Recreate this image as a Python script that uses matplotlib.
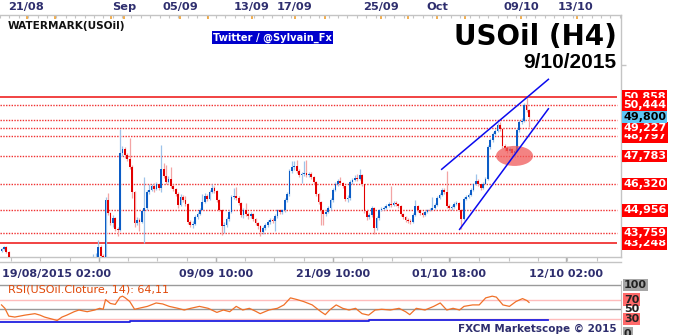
import numpy as np
import matplotlib
matplotlib.use("Agg")
import matplotlib.pyplot as plt
from matplotlib.patches import Ellipse
from matplotlib.transforms import blended_transform_factory
from matplotlib.lines import Line2D

# ---------------- data (H4 candles) ----------------
first_open = 42.85
closes = [42.95, 43.05, 42.80, 42.45, 42.20, 41.90, 41.75, 41.55, 41.20, 41.00,
          40.80, 40.60, 40.50, 40.20, 40.00, 39.80, 39.60, 39.30, 39.00, 38.80,
          38.60, 38.50, 38.80, 39.00, 39.30, 39.20, 39.00, 39.20, 39.50, 39.40,
          39.20, 39.00, 39.30, 39.80, 40.30, 40.80, 41.30, 41.80, 42.20, 42.40,
          43.05, 42.60, 42.20, 45.50, 44.80, 44.30, 44.55, 44.00, 43.95, 47.95,
          48.15, 47.85, 47.60, 47.20, 45.90, 44.30, 44.45, 44.35, 44.90, 45.10,
          45.90, 46.00, 46.20, 46.05, 46.30, 46.10, 47.10, 46.75, 46.45, 46.60,
          46.20, 46.05, 45.80, 45.25, 45.65, 45.50, 45.30, 44.35, 44.20, 44.25,
          44.60, 44.75, 45.00, 45.40, 45.70, 45.55, 45.90, 46.10, 45.95, 45.50,
          45.00, 44.15, 44.20, 44.50, 44.85, 45.65, 45.70, 45.60, 45.35, 44.70,
          45.00, 44.75, 44.65, 44.75, 44.50, 44.30, 44.15, 43.85, 44.05, 44.20,
          44.35, 44.45, 44.40, 44.65, 44.95, 44.85, 44.95, 45.50, 45.80, 47.00,
          47.20, 47.25, 47.00, 46.80, 46.85, 46.90, 46.80, 46.85, 46.70, 46.45,
          45.80, 45.40, 44.95, 44.75, 44.85, 45.10, 45.50, 46.00, 46.30, 46.50,
          46.40, 46.20, 45.55, 45.60, 46.45, 46.55, 46.65, 46.60, 46.80, 46.30,
          44.90, 44.60, 44.70, 45.10, 44.05, 44.55, 44.95, 45.05, 45.10, 45.20,
          45.30, 45.25, 45.35, 45.30, 45.20, 44.75, 44.60, 44.45, 44.40, 44.35,
          44.70, 45.20, 44.95, 44.80, 44.70, 44.85, 44.95, 45.00, 45.10, 45.25,
          45.60, 45.75, 46.00, 45.90, 45.20, 45.10, 45.15, 45.30, 45.35, 45.00,
          44.50, 45.55, 45.65, 45.75, 46.00, 46.30, 46.50, 46.30, 46.10, 46.35,
          46.60, 48.25, 48.60, 48.90, 49.10, 49.40, 49.20, 48.30, 48.20, 48.05,
          48.15, 47.95, 48.05, 49.15, 49.55, 49.60, 50.45, 50.15, 49.80]
highs = [43.00, 43.12, 43.10, 42.85, 42.40, 42.25, 42.00, 41.85, 41.60, 41.30,
         41.10, 40.90, 40.75, 40.55, 40.30, 40.10, 39.90, 39.70, 39.40, 39.10,
         38.90, 38.70, 38.95, 39.15, 39.45, 39.40, 39.25, 39.35, 39.65, 39.60,
         39.45, 39.25, 39.45, 39.95, 40.45, 40.95, 41.45, 42.00, 42.70, 42.75,
         43.40, 43.15, 42.70, 45.65, 45.85, 44.85, 44.70, 44.60, 44.10, 49.20,
         48.30, 48.25, 47.95, 48.70, 47.30, 45.95, 44.60, 44.55, 45.00, 46.70,
         46.00, 46.30, 46.35, 46.40, 46.45, 46.35, 48.35, 47.40, 47.30, 46.75,
         47.20, 46.30, 46.10, 45.90, 45.80, 45.75, 45.70, 45.35, 44.45, 44.40,
         44.70, 44.85, 45.10, 45.80, 45.85, 45.80, 46.00, 46.30, 46.20, 46.00,
         45.55, 45.05, 44.35, 44.60, 44.95, 45.75, 46.10, 46.15, 45.70, 45.40,
         45.10, 45.35, 44.85, 44.85, 44.80, 44.55, 44.35, 44.20, 44.15, 44.30,
         44.45, 44.55, 44.55, 44.75, 45.05, 45.05, 45.05, 45.60, 45.90, 47.10,
         47.50, 47.50, 47.55, 47.10, 46.95, 47.50, 47.55, 46.95, 46.95, 46.75,
         46.50, 45.85, 45.45, 45.00, 44.95, 45.20, 45.60, 46.10, 46.45, 46.60,
         46.70, 46.45, 46.25, 45.75, 46.55, 46.65, 46.80, 46.85, 47.10, 46.85,
         46.35, 44.95, 44.80, 45.20, 45.15, 44.65, 45.05, 45.15, 45.20, 45.30,
         45.40, 46.20, 45.45, 45.45, 45.35, 45.25, 44.80, 44.65, 44.55, 44.50,
         44.80, 45.50, 45.25, 45.00, 44.85, 44.95, 45.05, 45.10, 45.65, 45.35,
         45.70, 45.85, 46.10, 46.10, 47.00, 45.30, 45.25, 45.40, 45.45, 45.40,
         45.05, 45.65, 45.75, 45.85, 46.10, 46.40, 46.85, 46.60, 46.35, 46.45,
         46.70, 48.35, 48.70, 49.00, 49.20, 49.50, 49.55, 49.25, 48.40, 48.30,
         48.25, 48.20, 48.15, 49.25, 49.65, 49.75, 50.55, 50.85, 50.20]
lows = [42.80, 42.88, 42.72, 42.30, 42.05, 41.80, 41.60, 41.40, 41.05, 40.85,
        40.65, 40.45, 40.30, 40.05, 39.85, 39.65, 39.45, 39.15, 38.85, 38.60,
        38.40, 38.25, 38.40, 38.70, 38.95, 39.05, 38.85, 38.95, 39.15, 39.25,
        39.05, 38.85, 38.95, 39.25, 39.75, 40.25, 40.75, 41.25, 41.70, 42.10,
        42.30, 42.50, 41.90, 42.10, 44.70, 44.20, 44.10, 43.90, 43.60, 43.90,
        47.80, 47.70, 47.50, 47.10, 45.60, 44.10, 44.20, 43.90, 44.30, 43.25,
        45.00, 45.80, 45.95, 45.90, 46.00, 46.00, 45.90, 46.65, 46.35, 46.40,
        46.10, 45.95, 45.70, 45.10, 45.20, 45.40, 45.20, 44.25, 44.10, 44.05,
        44.20, 44.50, 44.70, 44.95, 45.35, 45.45, 45.50, 45.85, 45.85, 45.40,
        44.90, 43.70, 43.80, 44.10, 44.40, 44.80, 45.55, 45.50, 45.25, 44.60,
        44.55, 44.65, 44.50, 44.55, 44.40, 44.20, 44.00, 43.60, 43.75, 43.95,
        44.10, 44.25, 44.30, 43.90, 44.55, 44.75, 44.75, 44.85, 45.40, 45.70,
        46.90, 47.05, 46.90, 46.70, 46.40, 46.75, 46.70, 46.70, 46.60, 46.35,
        45.70, 45.30, 44.20, 44.20, 44.65, 44.80, 45.00, 45.40, 45.95, 46.20,
        46.30, 46.10, 45.45, 45.40, 45.50, 46.35, 46.50, 46.50, 46.55, 46.20,
        44.80, 44.45, 44.50, 44.60, 43.75, 43.95, 44.45, 44.90, 44.95, 45.05,
        45.15, 45.15, 45.20, 45.20, 45.10, 44.65, 44.50, 44.35, 44.30, 44.25,
        44.30, 44.65, 44.85, 44.70, 44.60, 44.65, 44.80, 44.90, 44.95, 45.05,
        45.20, 45.55, 45.70, 45.80, 45.10, 45.00, 45.00, 45.10, 45.25, 44.90,
        44.00, 44.45, 45.50, 45.60, 45.70, 45.95, 46.25, 46.20, 46.00, 46.05,
        46.30, 46.55, 48.15, 48.50, 48.85, 49.05, 49.10, 48.20, 48.05, 47.95,
        47.95, 47.85, 47.75, 48.00, 49.05, 49.45, 49.55, 50.05, 49.30]
# FX candles open at the previous close
opens = [first_open] + closes[:-1]

solid_levels = [50.858, 43.248]
dotted_levels = [50.444, 49.65, 49.227, 48.797, 47.783, 46.320, 44.956, 43.759]
labelled_levels = [50.858, 50.444, 48.797, 49.227, 47.783, 46.320, 44.956, 43.248, 43.759]
current_price = 49.800

# trend channel and highlighted zone (candle index, price)
upper_line_x = [181.9, 226.0]
upper_line_y = [47.09, 51.76]
lower_line_x = [189.3, 226.0]
lower_line_y = [43.97, 50.23]
zone_center = (212.0, 47.783)
zone_size = (15.3, 1.04)

top_labels = ["21/08", "Sep", "05/09", "13/09", "17/09", "25/09", "Oct", "09/10", "13/10"]
top_label_pos = [10.1, 50.6, 73.8, 103.5, 121.1, 156.8, 180.0, 214.7, 237.4]
top_day_ticks = [10.5, 22.1, 45.2, 50.6, 73.8, 85.3, 103.5, 121.3, 133.7, 156.8,
                 168.0, 180.0, 191.5, 214.7, 237.8]
bottom_labels = ["09/09 10:00", "21/09 10:00", "01/10 18:00", "12/10 02:00"]
bottom_label_pos = [88.6, 137.0, 185.0, 233.3]
first_bottom_label = "19/08/2015 02:00"

rsi_idx = [0, 1.4, 3, 5.5, 9.7, 13.8, 15.9, 17.8, 20, 23, 25, 27, 30, 32, 35.4,
           38.5, 40.6, 42, 43, 44, 45, 47, 49, 50, 51, 52, 53, 54, 55, 56.7,
           60.3, 63.9, 66.6, 69.3, 72.9, 75.5, 78.2, 81.8, 85.4, 89, 91.7, 94.3,
           97, 99.7, 102.4, 105, 106.9, 110.5, 114, 116.7, 119.4, 122.1, 124.8,
           128.4, 132, 133.8, 135.6, 138.3, 141, 143.6, 146.3, 149, 151.7, 154.4,
           157.1, 160.7, 164.3, 167, 168.7, 171.4, 175, 178.6, 181.3, 184, 186.6,
           189.3, 191.1, 194.7, 197.4, 200.1, 202.8, 204.5, 207.2, 209.9, 212.6,
           215.3, 217.1, 218]
rsi_val = [59, 52, 36, 34, 38, 41, 38, 34, 31, 27, 34, 38, 45, 48.5, 45,
           48.5, 52, 50, 70, 66, 62, 60, 75, 77, 74, 70, 66, 58, 50, 52,
           56, 63, 61, 56, 52, 48.5, 52, 56, 52, 43.6, 48.5, 45,
           56, 48.5, 52, 46, 41, 48.5, 52, 59, 73.5, 70, 66,
           59, 45, 39, 48.5, 59, 52, 48.5, 52, 41, 38, 48.5,
           50, 48.5, 52, 45, 39, 52, 48.5, 56, 63, 48.5, 52,
           48.5, 56, 59, 59, 73.5, 77, 75, 59, 56, 66,
           72, 68, 64.11]
base_idx = [-1, 53, 102, 152, 202, 226]
base_val = [23.6, 25.7, 26.4, 27.1, 28.6, 28.6]

# ---------------- layout helpers ----------------
W, H = 680, 335
fig = plt.figure(figsize=(W / 100, H / 100), dpi=100)
navy = "#2e2e6e"
grey = "#c4c4c4"

def fx(px):
    return px / W

def fy(py):
    return 1 - py / H

plot_right = 621
ax = fig.add_axes([0, fy(257), fx(plot_right), fy(15) - fy(257)])
ax.set_xlim(-0.62, 256.0)
ax.set_ylim(42.535, 55.10)
ax.set_xticks([])
ax.set_yticks([])
ax.spines["left"].set_visible(False)
for s in ("top", "right", "bottom"):
    ax.spines[s].set_color(grey)
    ax.spines[s].set_linewidth(1)

idx = np.arange(len(closes))
o = np.array(opens)
c = np.array(closes)
hi = np.array(highs)
lo = np.array(lows)
up = c >= o

ax.vlines(idx[up], lo[up], hi[up], colors="#9dc3ea", lw=0.9, zorder=2)
ax.vlines(idx[~up], lo[~up], hi[~up], colors="#f3a4a4", lw=0.9, zorder=2)
body = np.maximum(np.abs(c - o), 0.03)
ax.bar(idx[up], body[up], bottom=o[up], width=0.72, color="#0b5cc6", zorder=3, linewidth=0)
ax.bar(idx[~up], body[~up], bottom=c[~up], width=0.72, color="#e20000", zorder=3, linewidth=0)

xr = 254.4
for lv in solid_levels:
    ax.hlines(lv, -0.62, xr, colors="#ee1010", lw=1.1, zorder=1.5)
for lv in dotted_levels:
    ax.hlines(lv, -0.62, xr, colors="#f03030", lw=1.0, linestyles=(0, (1, 1)), zorder=1.5)

ax.plot(upper_line_x, upper_line_y, color="#0a0aee", lw=1.1, zorder=5)
ax.plot(lower_line_x, lower_line_y, color="#0a0aee", lw=1.1, zorder=5)
ax.add_patch(Ellipse(zone_center, zone_size[0], zone_size[1], facecolor="#f05a5a",
                     edgecolor="none", alpha=0.75, zorder=4))

# right price labels
tr_r = blended_transform_factory(ax.transAxes, ax.transData)
lx = 1 + 2.0 / plot_right
for lv in labelled_levels:
    ax.text(lx, lv, f"{lv:.3f}".replace(".", ","), transform=tr_r, ha="left", va="center",
            fontsize=8, fontweight="bold", color="white", clip_on=False, zorder=10,
            bbox=dict(boxstyle="square,pad=0.12", fc="#ff0000", ec="none"))
ax.text(lx, current_price, f"{current_price:.3f}".replace(".", ","), transform=tr_r,
        ha="left", va="center", fontsize=8, fontweight="bold", color="black", clip_on=False,
        zorder=11, bbox=dict(boxstyle="square,pad=0.12", fc="#5ec6f5", ec="none"))
# right axis ticks
for pv in [45.0, 47.5, 50.0, 52.5]:
    ax.hlines(pv, 1.0, 1 + 5.0 / plot_right, transform=tr_r, colors=grey, lw=1, clip_on=False)

# top axis ticks and labels
tr_t = blended_transform_factory(ax.transData, ax.transAxes)
ah = 242.0
minor_top = np.arange(-0.6, 256, 3.88)
ax.vlines(minor_top, 1 - 2.5 / ah, 1, transform=tr_t, colors=grey, lw=0.8, clip_on=False)
ax.vlines(top_day_ticks, 1 - 3.5 / ah, 1, transform=tr_t, colors="#f0a030", lw=1.2, clip_on=False)
for lab, pos in zip(top_labels, top_label_pos):
    ax.text(pos, 1 + 8.0 / ah, lab, transform=tr_t, ha="center", va="center",
            fontsize=8.2, fontweight="bold", color=navy, clip_on=False)

# bottom axis ticks and labels
major_b = np.array(bottom_label_pos)
minor_b = np.arange(major_b[0] - 12.1 * 7, 256, 12.1)
ax.vlines(minor_b, -4.0 / ah, 0, transform=tr_t, colors=grey, lw=0.8, clip_on=False)
ax.vlines(np.append(major_b, major_b[0] - 48.3), -5.0 / ah, 0, transform=tr_t,
          colors="#b0b0b0", lw=1.0, clip_on=False)
fig.add_artist(Line2D([0, fx(plot_right)], [fy(262), fy(262)], color=grey, lw=1))
for lab, pos in zip(bottom_labels, bottom_label_pos):
    ax.text(pos, -17.0 / ah, lab, transform=tr_t, ha="center", va="center",
            fontsize=8, fontweight="bold", color=navy, clip_on=False)
fig.text(fx(2), fy(274), first_bottom_label, ha="left", va="center", fontsize=8,
         fontweight="bold", color=navy)

# titles and captions
fig.text(fx(617), fy(45), "USOil (H4)", ha="right", va="baseline", fontsize=20,
         fontweight="bold", color="black")
fig.text(fx(616), fy(68), "9/10/2015", ha="right", va="baseline", fontsize=15,
         fontweight="bold", color="black", family="Liberation Sans")
fig.text(fx(8), fy(26), "WATERMARK(USOil)", ha="left", va="center", fontsize=7.6,
         fontweight="bold", color="#111111")
fig.text(fx(272.5), fy(37.5), "Twitter / @Sylvain_Fx", ha="center", va="center",
         fontsize=7.1, fontweight="bold", color="white",
         bbox=dict(boxstyle="square,pad=0.15", fc="#0000cc", ec="none"))

# ---------------- RSI panel ----------------
ax2 = fig.add_axes([0, 0, fx(plot_right), fy(281)])
ax2.set_xlim(-0.62, 256.0)
ax2.set_ylim(-2.9, 108.2)
ax2.set_xticks([])
ax2.set_yticks([])
for s in ("top", "left", "bottom"):
    ax2.spines[s].set_visible(False)
ax2.spines["right"].set_color(grey)
for lv, col in [(100, "#9a9a9a"), (50, "#9a9a9a"), (70, "#ffbcbc"), (30, "#ffbcbc")]:
    ax2.axhline(lv, color=col, lw=1, zorder=1)
ax2.plot(base_idx, base_val, color="#2020e0", lw=1.3, drawstyle="steps-post", zorder=2)
ax2.plot(rsi_idx, rsi_val, color="#f07028", lw=0.9, zorder=3)
ax2.text(fx(8) / fx(plot_right), 100 - 5 / 0.486, "RSI(USOil.Cloture, 14): 64,11",
         transform=blended_transform_factory(ax2.transAxes, ax2.transData),
         ha="left", va="center", fontsize=8, color="#e04808")
tr2 = blended_transform_factory(ax2.transAxes, ax2.transData)
rx = 1 + 3.0 / plot_right
for lv, fc in [(100, "#a6a6a6"), (70, "#ff6a6a"), (50, None), (30, "#ff6a6a"), (0, "#a6a6a6")]:
    kw = dict(boxstyle="square,pad=0.1", fc=fc, ec="none") if fc else None
    ax2.text(rx, lv, str(lv), transform=tr2, ha="left", va="center", fontsize=8,
             fontweight="bold", color="#222222", clip_on=False, bbox=kw)
fig.text(fx(617), fy(329), "FXCM Marketscope \u00a9 2015", ha="right", va="center",
         fontsize=7.5, fontweight="bold", color=navy)

fig.savefig("out.png", dpi=100)
